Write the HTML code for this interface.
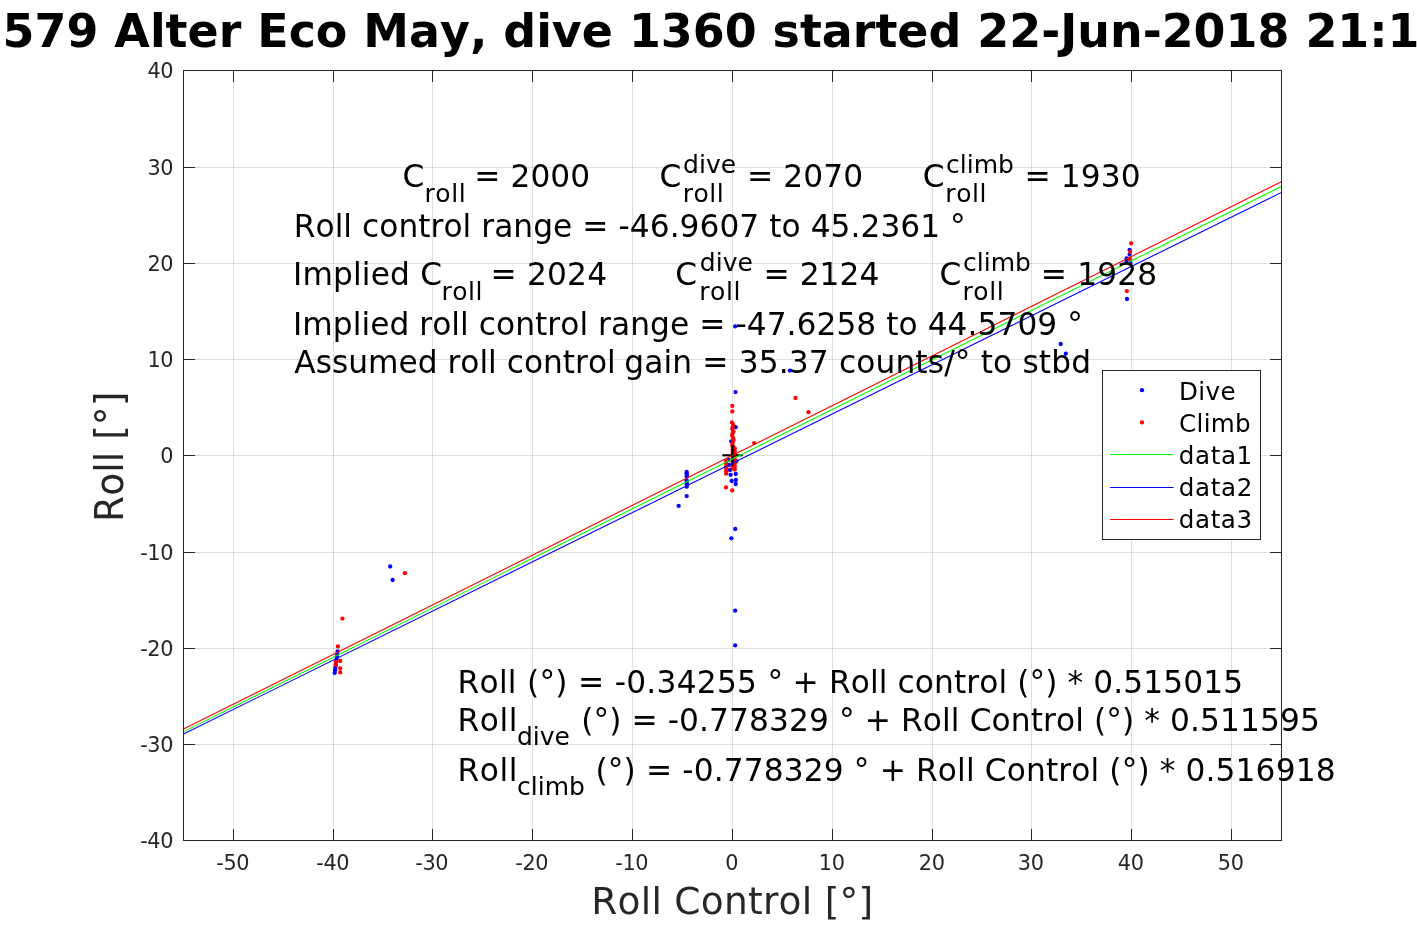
<!DOCTYPE html>
<html lang="en"><head><meta charset="utf-8"><title>Roll vs Roll Control</title>
<style>html,body{margin:0;padding:0;background:#fff;overflow:hidden}svg{display:block}text{font-kerning:none;font-variant-ligatures:none;font-family:"DejaVu Sans","Liberation Sans",sans-serif;white-space:pre}</style></head><body>
<svg width="1417" height="945" viewBox="0 0 1417 945">
<rect x="0" y="0" width="1417" height="945" fill="#fff"/>
<g stroke="#262626" stroke-opacity="0.15" stroke-width="1" fill="none">
<line x1="233.5" y1="70.5" x2="233.5" y2="840.5"/>
<line x1="333.5" y1="70.5" x2="333.5" y2="840.5"/>
<line x1="432.5" y1="70.5" x2="432.5" y2="840.5"/>
<line x1="532.5" y1="70.5" x2="532.5" y2="840.5"/>
<line x1="632.5" y1="70.5" x2="632.5" y2="840.5"/>
<line x1="732.5" y1="70.5" x2="732.5" y2="840.5"/>
<line x1="832.5" y1="70.5" x2="832.5" y2="840.5"/>
<line x1="932.5" y1="70.5" x2="932.5" y2="840.5"/>
<line x1="1031.5" y1="70.5" x2="1031.5" y2="840.5"/>
<line x1="1131.5" y1="70.5" x2="1131.5" y2="840.5"/>
<line x1="1231.5" y1="70.5" x2="1231.5" y2="840.5"/>
<line x1="183.5" y1="744.5" x2="1281.5" y2="744.5"/>
<line x1="183.5" y1="648.5" x2="1281.5" y2="648.5"/>
<line x1="183.5" y1="552.5" x2="1281.5" y2="552.5"/>
<line x1="183.5" y1="455.5" x2="1281.5" y2="455.5"/>
<line x1="183.5" y1="359.5" x2="1281.5" y2="359.5"/>
<line x1="183.5" y1="263.5" x2="1281.5" y2="263.5"/>
<line x1="183.5" y1="167.5" x2="1281.5" y2="167.5"/>
</g>
<g fill="#0000ff">
<circle cx="337.6" cy="651.4" r="2.15"/>
<circle cx="337.2" cy="654.1" r="2.15"/>
<circle cx="336.9" cy="656.8" r="2.15"/>
<circle cx="336.5" cy="659.5" r="2.15"/>
<circle cx="336.2" cy="662.1" r="2.15"/>
<circle cx="335.8" cy="664.8" r="2.15"/>
<circle cx="335.4" cy="667.5" r="2.15"/>
<circle cx="335.1" cy="670.2" r="2.15"/>
<circle cx="334.7" cy="672.9" r="2.15"/>
<circle cx="390.2" cy="566.5" r="2.15"/>
<circle cx="392.6" cy="580.0" r="2.15"/>
<circle cx="686.7" cy="471.9" r="2.15"/>
<circle cx="686.6" cy="473.5" r="2.15"/>
<circle cx="686.8" cy="475.0" r="2.15"/>
<circle cx="686.7" cy="476.4" r="2.15"/>
<circle cx="686.7" cy="480.4" r="2.15"/>
<circle cx="686.6" cy="482.2" r="2.15"/>
<circle cx="686.8" cy="484.3" r="2.15"/>
<circle cx="686.7" cy="486.7" r="2.15"/>
<circle cx="686.7" cy="496.1" r="2.15"/>
<circle cx="678.6" cy="505.9" r="2.15"/>
<circle cx="735.2" cy="326.4" r="2.15"/>
<circle cx="789.9" cy="370.6" r="2.15"/>
<circle cx="735.5" cy="392.1" r="2.15"/>
<circle cx="735.7" cy="427.2" r="2.15"/>
<circle cx="731.2" cy="441.3" r="2.15"/>
<circle cx="736.3" cy="461.2" r="2.15"/>
<circle cx="728.5" cy="460.0" r="2.15"/>
<circle cx="729.0" cy="465.0" r="2.15"/>
<circle cx="730.0" cy="470.0" r="2.15"/>
<circle cx="730.5" cy="474.8" r="2.15"/>
<circle cx="735.7" cy="474.0" r="2.15"/>
<circle cx="731.7" cy="481.0" r="2.15"/>
<circle cx="735.9" cy="480.0" r="2.15"/>
<circle cx="735.7" cy="484.0" r="2.15"/>
<circle cx="735.2" cy="529.0" r="2.15"/>
<circle cx="731.4" cy="538.3" r="2.15"/>
<circle cx="735.2" cy="610.7" r="2.15"/>
<circle cx="735.2" cy="645.4" r="2.15"/>
<circle cx="1129.6" cy="249.9" r="2.15"/>
<circle cx="1129.6" cy="254.6" r="2.15"/>
<circle cx="1126.6" cy="258.4" r="2.15"/>
<circle cx="1126.6" cy="261.5" r="2.15"/>
<circle cx="1130.5" cy="263.0" r="2.15"/>
<circle cx="1127.0" cy="299.0" r="2.15"/>
<circle cx="1060.7" cy="344.0" r="2.15"/>
<circle cx="1065.8" cy="353.7" r="2.15"/>
</g>
<g fill="#ff0000">
<circle cx="342.4" cy="618.6" r="2.15"/>
<circle cx="337.9" cy="646.4" r="2.15"/>
<circle cx="340.2" cy="661.0" r="2.15"/>
<circle cx="336.0" cy="661.9" r="2.15"/>
<circle cx="336.0" cy="665.0" r="2.15"/>
<circle cx="340.2" cy="668.4" r="2.15"/>
<circle cx="340.2" cy="672.4" r="2.15"/>
<circle cx="404.9" cy="573.2" r="2.15"/>
<circle cx="732.3" cy="405.9" r="2.15"/>
<circle cx="732.3" cy="411.5" r="2.15"/>
<circle cx="732.0" cy="422.5" r="2.15"/>
<circle cx="733.1" cy="424.7" r="2.15"/>
<circle cx="732.7" cy="426.9" r="2.15"/>
<circle cx="732.2" cy="429.1" r="2.15"/>
<circle cx="733.4" cy="431.3" r="2.15"/>
<circle cx="732.6" cy="433.5" r="2.15"/>
<circle cx="732.1" cy="435.7" r="2.15"/>
<circle cx="733.2" cy="437.9" r="2.15"/>
<circle cx="733.5" cy="440.1" r="2.15"/>
<circle cx="732.8" cy="442.3" r="2.15"/>
<circle cx="732.3" cy="444.5" r="2.15"/>
<circle cx="733.0" cy="446.7" r="2.15"/>
<circle cx="732.6" cy="447.0" r="2.15"/>
<circle cx="734.8" cy="448.5" r="2.15"/>
<circle cx="732.6" cy="450.0" r="2.15"/>
<circle cx="734.8" cy="451.5" r="2.15"/>
<circle cx="732.6" cy="453.0" r="2.15"/>
<circle cx="734.8" cy="454.5" r="2.15"/>
<circle cx="732.6" cy="456.0" r="2.15"/>
<circle cx="734.8" cy="457.5" r="2.15"/>
<circle cx="732.6" cy="459.0" r="2.15"/>
<circle cx="734.8" cy="460.5" r="2.15"/>
<circle cx="732.6" cy="462.0" r="2.15"/>
<circle cx="734.8" cy="463.5" r="2.15"/>
<circle cx="732.6" cy="465.0" r="2.15"/>
<circle cx="734.8" cy="466.5" r="2.15"/>
<circle cx="732.6" cy="468.0" r="2.15"/>
<circle cx="734.8" cy="469.5" r="2.15"/>
<circle cx="726.2" cy="461.2" r="2.15"/>
<circle cx="726.2" cy="463.7" r="2.15"/>
<circle cx="726.2" cy="466.2" r="2.15"/>
<circle cx="726.2" cy="468.7" r="2.15"/>
<circle cx="726.2" cy="471.2" r="2.15"/>
<circle cx="726.2" cy="473.7" r="2.15"/>
<circle cx="754.1" cy="443.1" r="2.15"/>
<circle cx="795.5" cy="398.0" r="2.15"/>
<circle cx="808.5" cy="412.2" r="2.15"/>
<circle cx="726.0" cy="487.4" r="2.15"/>
<circle cx="732.2" cy="490.4" r="2.15"/>
<circle cx="1131.2" cy="243.4" r="2.15"/>
<circle cx="1130.2" cy="251.8" r="2.15"/>
<circle cx="1130.0" cy="259.2" r="2.15"/>
<circle cx="1126.8" cy="291.1" r="2.15"/>
</g>
<g stroke="#000" stroke-width="2.1" fill="none"><line x1="722.3" y1="455.3" x2="742.7" y2="455.3"/><line x1="732.5" y1="445" x2="732.5" y2="465.5"/></g>
<line x1="183.5" y1="731.63" x2="1281.5" y2="186.36" stroke="#00ff00" stroke-width="1.1"/>
<line x1="183.5" y1="734.02" x2="1281.5" y2="192.37" stroke="#0000ff" stroke-width="1.1"/>
<line x1="183.5" y1="729.01" x2="1281.5" y2="181.72" stroke="#ff0000" stroke-width="1.1"/>
<g stroke="#262626" stroke-width="1" fill="none">
<rect x="183.5" y="70.5" width="1098.0" height="770.0"/>
<line x1="233.5" y1="840.5" x2="233.5" y2="829.0"/><line x1="233.5" y1="70.5" x2="233.5" y2="82.0"/>
<line x1="333.5" y1="840.5" x2="333.5" y2="829.0"/><line x1="333.5" y1="70.5" x2="333.5" y2="82.0"/>
<line x1="432.5" y1="840.5" x2="432.5" y2="829.0"/><line x1="432.5" y1="70.5" x2="432.5" y2="82.0"/>
<line x1="532.5" y1="840.5" x2="532.5" y2="829.0"/><line x1="532.5" y1="70.5" x2="532.5" y2="82.0"/>
<line x1="632.5" y1="840.5" x2="632.5" y2="829.0"/><line x1="632.5" y1="70.5" x2="632.5" y2="82.0"/>
<line x1="732.5" y1="840.5" x2="732.5" y2="829.0"/><line x1="732.5" y1="70.5" x2="732.5" y2="82.0"/>
<line x1="832.5" y1="840.5" x2="832.5" y2="829.0"/><line x1="832.5" y1="70.5" x2="832.5" y2="82.0"/>
<line x1="932.5" y1="840.5" x2="932.5" y2="829.0"/><line x1="932.5" y1="70.5" x2="932.5" y2="82.0"/>
<line x1="1031.5" y1="840.5" x2="1031.5" y2="829.0"/><line x1="1031.5" y1="70.5" x2="1031.5" y2="82.0"/>
<line x1="1131.5" y1="840.5" x2="1131.5" y2="829.0"/><line x1="1131.5" y1="70.5" x2="1131.5" y2="82.0"/>
<line x1="1231.5" y1="840.5" x2="1231.5" y2="829.0"/><line x1="1231.5" y1="70.5" x2="1231.5" y2="82.0"/>
<line x1="183.5" y1="744.5" x2="195.0" y2="744.5"/><line x1="1281.5" y1="744.5" x2="1270.0" y2="744.5"/>
<line x1="183.5" y1="648.5" x2="195.0" y2="648.5"/><line x1="1281.5" y1="648.5" x2="1270.0" y2="648.5"/>
<line x1="183.5" y1="552.5" x2="195.0" y2="552.5"/><line x1="1281.5" y1="552.5" x2="1270.0" y2="552.5"/>
<line x1="183.5" y1="455.5" x2="195.0" y2="455.5"/><line x1="1281.5" y1="455.5" x2="1270.0" y2="455.5"/>
<line x1="183.5" y1="359.5" x2="195.0" y2="359.5"/><line x1="1281.5" y1="359.5" x2="1270.0" y2="359.5"/>
<line x1="183.5" y1="263.5" x2="195.0" y2="263.5"/><line x1="1281.5" y1="263.5" x2="1270.0" y2="263.5"/>
<line x1="183.5" y1="167.5" x2="195.0" y2="167.5"/><line x1="1281.5" y1="167.5" x2="1270.0" y2="167.5"/>
</g>
<g fill="#262626" font-size="20.83px" letter-spacing="-0.27px">
<text x="232.75" y="870.2" text-anchor="middle">-50</text>
<text x="332.75" y="870.2" text-anchor="middle">-40</text>
<text x="431.75" y="870.2" text-anchor="middle">-30</text>
<text x="531.75" y="870.2" text-anchor="middle">-20</text>
<text x="631.75" y="870.2" text-anchor="middle">-10</text>
<text x="731.75" y="870.2" text-anchor="middle">0</text>
<text x="831.75" y="870.2" text-anchor="middle">10</text>
<text x="931.75" y="870.2" text-anchor="middle">20</text>
<text x="1030.75" y="870.2" text-anchor="middle">30</text>
<text x="1130.75" y="870.2" text-anchor="middle">40</text>
<text x="1230.75" y="870.2" text-anchor="middle">50</text>
<text x="173.35" y="848.20" text-anchor="end">-40</text>
<text x="173.35" y="752.20" text-anchor="end">-30</text>
<text x="173.35" y="656.20" text-anchor="end">-20</text>
<text x="173.35" y="560.20" text-anchor="end">-10</text>
<text x="173.35" y="463.20" text-anchor="end">0</text>
<text x="173.35" y="367.20" text-anchor="end">10</text>
<text x="173.35" y="271.20" text-anchor="end">20</text>
<text x="173.35" y="175.20" text-anchor="end">30</text>
<text x="173.35" y="78.20" text-anchor="end">40</text>
</g>
<g fill="#262626">
<text x="591.24" y="914.00" font-size="37.5px" letter-spacing="0.259px">Roll Control [°]</text>
<g transform="translate(123,518.3) rotate(-90) scale(1,1.018)">
<text x="-3.66" y="0.00" font-size="37.5px" letter-spacing="0.071px">Roll [°]</text>
</g>
</g>
<text x="2.6" y="47" font-size="45.9px" font-weight="bold" fill="#000">579 Alter Eco May, dive 1360 started 22-Jun-2018 21:1</text>
<g fill="#000">
<text x="402.58" y="187.20" font-size="31.25px" letter-spacing="0.000px">C</text>
<text x="424.55" y="201.70" font-size="25px" letter-spacing="0.542px">roll</text>
<text x="474.22" y="187.20" font-size="31.25px" letter-spacing="0.058px">= 2000</text>
<text x="659.48" y="187.20" font-size="31.25px" letter-spacing="0.000px">C</text>
<text x="683.02" y="172.70" font-size="25px" letter-spacing="0.029px">dive</text>
<text x="682.65" y="201.70" font-size="25px" letter-spacing="0.542px">roll</text>
<text x="747.12" y="187.20" font-size="31.25px" letter-spacing="0.058px">= 2070</text>
<text x="922.68" y="187.20" font-size="31.25px" letter-spacing="0.000px">C</text>
<text x="945.92" y="172.70" font-size="25px" letter-spacing="0.044px">climb</text>
<text x="945.35" y="201.70" font-size="25px" letter-spacing="0.542px">roll</text>
<text x="1024.42" y="187.20" font-size="31.25px" letter-spacing="0.138px">= 1930</text>
<text x="293.75" y="237.00" font-size="31.25px" letter-spacing="0.036px">Roll control range = -46.9607 to 45.2361 °</text>
<text x="293.05" y="285.20" font-size="31.25px" letter-spacing="0.154px">Implied C</text>
<text x="441.45" y="299.70" font-size="25px" letter-spacing="0.542px">roll</text>
<text x="490.42" y="285.20" font-size="31.25px" letter-spacing="0.195px">= 2024</text>
<text x="675.18" y="285.20" font-size="31.25px" letter-spacing="0.000px">C</text>
<text x="699.83" y="270.70" font-size="25px" letter-spacing="0.029px">dive</text>
<text x="699.25" y="299.70" font-size="25px" letter-spacing="0.542px">roll</text>
<text x="763.42" y="285.20" font-size="31.25px" letter-spacing="0.055px">= 2124</text>
<text x="939.38" y="285.20" font-size="31.25px" letter-spacing="0.000px">C</text>
<text x="962.92" y="270.70" font-size="25px" letter-spacing="0.044px">climb</text>
<text x="962.55" y="299.70" font-size="25px" letter-spacing="0.542px">roll</text>
<text x="1040.82" y="285.20" font-size="31.25px" letter-spacing="0.133px">= 1928</text>
<text x="293.05" y="335.20" font-size="31.25px" letter-spacing="0.047px">Implied roll control range = -47.6258 to 44.5709 °</text>
<text x="294.27" y="373.00" font-size="31.25px" letter-spacing="0.002px">Assumed roll control</text>
<text x="624.18" y="373.00" font-size="31.25px" letter-spacing="0.138px">gain = 35.37 counts/° to stbd</text>
<text x="457.55" y="692.50" font-size="31.25px" letter-spacing="0.264px">Roll (°) = -0.34255 °</text>
<text x="792.62" y="692.50" font-size="31.25px" letter-spacing="0.094px">+ Roll control (°) * 0.515015</text>
<text x="457.45" y="730.70" font-size="31.25px" letter-spacing="0.578px">Roll</text>
<text x="516.92" y="744.70" font-size="25px" letter-spacing="0.029px">dive</text>
<text x="581.14" y="730.70" font-size="31.25px" letter-spacing="0.094px">(°) = -0.778329 ° + Roll Control (°) * 0.511595</text>
<text x="457.45" y="780.90" font-size="31.25px" letter-spacing="0.578px">Roll</text>
<text x="516.92" y="794.90" font-size="25px" letter-spacing="0.044px">climb</text>
<text x="595.54" y="780.90" font-size="31.25px" letter-spacing="0.122px">(°) = -0.778329 ° + Roll Control (°) * 0.516918</text>
</g>
<rect x="1102.5" y="370.5" width="158" height="169" fill="#fff" stroke="#262626" stroke-width="1"/>
<circle cx="1142" cy="390.2" r="2.15" fill="#0000ff"/><circle cx="1142" cy="422.4" r="2.15" fill="#ff0000"/>
<line x1="1110.2" y1="454.5" x2="1173.6" y2="454.5" stroke="#00ff00" stroke-width="1"/>
<line x1="1110.2" y1="487.5" x2="1173.6" y2="487.5" stroke="#0000ff" stroke-width="1"/>
<line x1="1110.2" y1="519.5" x2="1173.6" y2="519.5" stroke="#ff0000" stroke-width="1"/>
<g fill="#000">
<text x="1179.00" y="399.60" font-size="24.6px" letter-spacing="0.406px">Dive</text>
<text x="1179.05" y="431.80" font-size="24.6px" letter-spacing="0.297px">Climb</text>
<text x="1178.75" y="463.75" font-size="24.6px" letter-spacing="0.609px">data1</text>
<text x="1178.75" y="495.90" font-size="24.6px" letter-spacing="0.670px">data2</text>
<text x="1178.75" y="528.30" font-size="24.6px" letter-spacing="0.597px">data3</text>
</g>
</svg></body></html>
